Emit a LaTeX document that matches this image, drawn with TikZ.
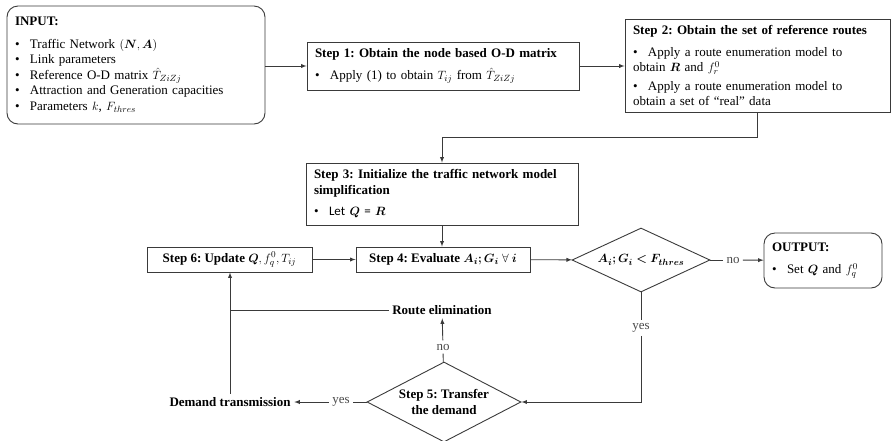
\documentclass[tikz,border=0pt]{standalone}
\usepackage{fontspec}
\setmainfont{Liberation Serif}
\newfontfamily\calfont{Carlito}
\usepackage{bm}
\usetikzlibrary{shapes.geometric}
\definecolor{linegray}{HTML}{3A3A3A}
\definecolor{lblgray}{HTML}{4A4A4A}
\frenchspacing
\newcommand{\bul}{\par\hangindent=15pt\hangafter=1\noindent\makebox[15pt][l]{\textbullet}}
\begin{document}
\begin{tikzpicture}[x=1pt, y=-1pt, >=latex, line width=.9pt, draw=linegray,
  every node/.style={font=\fontsize{13}{15.5}\selectfont},
  box/.style={draw=linegray, align=left, inner xsep=8pt, inner ysep=4pt},
  rbox/.style={box, rounded corners=11pt},
  choice/.style={diamond, draw=linegray, aspect=2, inner sep=0pt},
  lbl/.style={text=lblgray, inner sep=3pt},
  act/.style={font=\fontsize{13}{15.5}\selectfont\bfseries}]
\useasboundingbox (0,0) rectangle (891,440);
\node[rbox, text width=242pt, minimum height=118pt] (input) at (136,65)
  {\textbf{INPUT:}\par\vspace{7pt}\bul Traffic Network $(\bm{N},\bm{A})$\bul Link parameters\bul Reference O-D matrix $\hat{T}_{ZiZj}$\bul Attraction and Generation capacities\bul Parameters $k$, $F_{thres}$};
\node[box, text width=256pt, minimum height=48pt] (step1) at (443,66)
  {\textbf{Step 1: Obtain the node based O-D matrix}\par\vspace{7pt}\bul Apply (1) to obtain $T_{ij}$ from $\hat{T}_{ZiZj}$};
\node[box, text width=249pt, minimum height=93pt] (step2) at (757.5,65.5)
  {\textbf{Step 2: Obtain the set of reference routes}\par\vspace{6pt}\bul Apply a route enumeration model to\\obtain $\bm{R}$ and $f_r^0$\par\vspace{3pt}\bul Apply a route enumeration model to\\obtain a set of ``real'' data};
\node[box, text width=256pt, minimum height=62pt] (step3) at (442,194)
  {\textbf{Step 3: Initialize the traffic network model}\\\textbf{simplification}\par\vspace{6pt}\bul{\calfont Let $\bm{Q}$ = $\bm{R}$}};
\node[box, minimum width=174pt, minimum height=25pt] (step4) at (443,259.5)
  {\textbf{Step 4: Evaluate} $\bm{A_i; G_i}\ \forall\ \bm{i}$};
\node[box, minimum width=165pt, minimum height=25pt] (step6) at (229.5,259.5)
  {\textbf{Step 6: Update} $\bm{Q}, f_q^0, T_{ij}$};
\node[rbox, text width=102pt, minimum height=55pt] (output) at (823,260.5)
  {\textbf{OUTPUT:}\par\vspace{7pt}\bul Set $\bm{Q}$ and $f_q^0$};
\node[choice, minimum width=138pt, minimum height=64pt] (dec1) at (641,260) {$\bm{A_i; G_i < F_{thres}}$};
\node[choice, minimum width=154pt, minimum height=80pt, align=center, act] (dec2) at (444,402) {Step 5: Transfer\\the demand};
\node[lbl] (no1) at (733,260) {no};
\node[lbl] (yes1) at (641,328) {yes};
\node[lbl] (no2) at (443,347) {no};
\node[lbl] (yes2) at (341,402) {yes};
\node[act] (elim) at (442,310) {Route elimination};
\node[act] (demand) at (230,402) {Demand transmission};
\draw[->] (input.east |- step1) -- (step1);
\draw[->] (step1) -- (step2.west |- step1);
\draw[->] (step2.south) -- ++(0,25) -| (step3.north);
\draw[->] (step3.south) -- (step3.south |- step4.north);
\draw[->] (step6) -- (step4);
\draw[->] (step4) -- (dec1);
\draw (dec1) -- (no1);
\draw[->] (no1) -- (output);
\draw (dec1) -- (yes1);
\draw[->] (yes1) |- (dec2);
\draw (dec2) -- (no2);
\draw[->] (no2) -- (elim);
\draw (dec2) -- (yes2);
\draw[->] (yes2) -- (demand);
\draw[->] (demand) -- (demand |- step6.south);
\draw (elim) -- (elim -| demand);
\end{tikzpicture}
\end{document}
